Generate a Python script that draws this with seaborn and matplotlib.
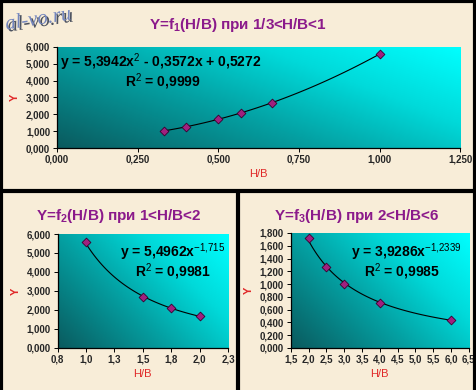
import numpy as np
import pandas as pd
import matplotlib.pyplot as plt
import matplotlib.patheffects as pe
from matplotlib.colors import LinearSegmentedColormap
from matplotlib.ticker import FuncFormatter, MultipleLocator
import seaborn as sns

sns.set_theme(style="white")
plt.rcParams["font.family"] = ["Liberation Sans", "DejaVu Sans"]
plt.rcParams["mathtext.fontset"] = "custom"
plt.rcParams["mathtext.rm"] = "Liberation Sans"
plt.rcParams["mathtext.bf"] = "Liberation Sans:bold"

# ── данные ─────────────────────────────────────────────────────────────────
x1 = [0.333, 0.400, 0.500, 0.571, 0.667, 1.000]
y1 = [1.01, 1.27, 1.72, 2.09, 2.68, 5.58]

x2 = [1.00, 1.50, 1.75, 2.00]
y2 = [5.56, 2.65, 2.07, 1.69]

x3 = [2.0, 2.5, 3.0, 4.0, 6.0]
y3 = [1.72, 1.26, 1.00, 0.71, 0.44]

BG = "#F8EDD8"
PURPLE = "#8B1A8B"
RED = "#E02828"
grad = LinearSegmentedColormap.from_list(
    "excel", [(0, "#0A5A5E"), (0.4, "#04A0A2"), (0.7, "#00DADA"), (1, "#00FFFF")])

fig = plt.figure(figsize=(4.76, 3.90), dpi=100, facecolor=BG)


def fmt(decimals):
    # округление "половина вверх", как в Excel
    def f(v, p):
        s = f"{v + 1e-9:.{decimals}f}"
        return s.replace(".", ",")
    return FuncFormatter(f)


def panel(rect, xs, ys, fit_x, fit_y, xlim, xstep, xdec, ylim, ystep, ydec):
    ax = fig.add_axes(rect)
    ax.set_facecolor(BG)
    gx, gy = np.meshgrid(np.linspace(0, 1, 200), np.linspace(0, 1, 100))
    ax.imshow(0.6 * gx + 0.4 * gy, cmap=grad, origin="lower", aspect="auto",
              extent=[0, 1, 0, 1], transform=ax.transAxes, zorder=0)
    ax.plot(fit_x, fit_y, color="black", lw=0.8, zorder=2)
    sns.scatterplot(x=xs, y=ys, marker="D", s=20, color="#A0207E",
                    edgecolor="#3A0030", linewidth=0.6, ax=ax, zorder=3)
    ax.set_xlim(*xlim)
    ax.set_ylim(*ylim)
    ax.xaxis.set_major_locator(MultipleLocator(xstep))
    ax.yaxis.set_major_locator(MultipleLocator(ystep))
    ax.xaxis.set_major_formatter(fmt(xdec))
    ax.yaxis.set_major_formatter(fmt(ydec))
    for s in ["top", "right"]:
        ax.spines[s].set_visible(False)
    for s in ["left", "bottom"]:
        ax.spines[s].set_color("black")
        ax.spines[s].set_linewidth(0.9)
    ax.tick_params(axis="both", which="major", length=3, width=0.7, color="black",
                   labelsize=7, pad=2, direction="out", bottom=True, left=True)
    for lab in ax.get_xticklabels() + ax.get_yticklabels():
        lab.set_fontweight("bold")
    ax.set_xlabel("H/B", color=RED, fontsize=8, labelpad=3)
    ax.set_ylabel("Y", color=RED, fontsize=8, labelpad=4, fontweight="bold")
    return ax


# ── верхний график: полином 2-й степени ────────────────────────────────────
c1 = np.polyfit(x1, y1, 2)
fx1 = np.linspace(min(x1), max(x1), 100)
ax1 = panel([0.1197, 0.6205, 0.847, 0.259], x1, y1, fx1, np.polyval(c1, fx1),
            (0, 1.25), 0.25, 3, (0, 6), 1, 3)

# ── нижние графики: степенная аппроксимация ────────────────────────────────
b2, a2 = np.polyfit(np.log(x2), np.log(y2), 1)
fx2 = np.linspace(min(x2), max(x2), 100)
ax2 = panel([0.121, 0.1085, 0.358, 0.2915], x2, y2, fx2, np.exp(a2) * fx2 ** b2,
            (0.75, 2.25), 0.25, 1, (0, 6), 1, 3)

b3, a3 = np.polyfit(np.log(x3), np.log(y3), 1)
fx3 = np.linspace(min(x3), max(x3), 100)
ax3 = panel([0.611, 0.1077, 0.374, 0.295], x3, y3, fx3, np.exp(a3) * fx3 ** b3,
            (1.5, 6.5), 0.5, 1, (0, 1.8), 0.2, 3)

# ── заголовки ──────────────────────────────────────────────────────────────
tkw = dict(color=PURPLE, fontsize=11, fontweight="bold", ha="center", va="center")
fig.text(238 / 476, 1 - 25 / 390, r"Y=f$_\mathbf{1}$(H/B) при 1/3<H/B<1", **tkw)
fig.text(119 / 476, 1 - 216 / 390, r"Y=f$_\mathbf{2}$(H/B) при 1<H/B<2", **tkw)
fig.text(357 / 476, 1 - 216 / 390, r"Y=f$_\mathbf{3}$(H/B) при 2<H/B<6", **tkw)

# ── уравнения трендов ──────────────────────────────────────────────────────
ekw = dict(color="black", fontsize=10, fontweight="bold", va="center")
fig.text(60 / 476, 1 - 62 / 390, r"y = 5,3942x$^\mathrm{2}$ - 0,3572x + 0,5272", **ekw)
fig.text(125 / 476, 1 - 82 / 390, r"R$^\mathrm{2}$ = 0,9999", **ekw)
fig.text(120 / 476, 1 - 252 / 390, r"y = 5,4962x$^{\mathrm{-1{,}715}}$", **ekw)
fig.text(135 / 476, 1 - 272 / 390, r"R$^\mathrm{2}$ = 0,9981", **ekw)
fig.text(351 / 476, 1 - 252 / 390, r"y = 3,9286x$^{\mathrm{-1{,}2339}}$", **ekw)
fig.text(364 / 476, 1 - 272 / 390, r"R$^\mathrm{2}$ = 0,9985", **ekw)

# ── водяной знак ───────────────────────────────────────────────────────────
fig.text(4 / 476, 1 - 20 / 390, "al-vo.ru", family="Liberation Serif", style="italic",
         fontsize=15, color="#7486BE", rotation=9, va="center", ha="left",
         path_effects=[pe.withSimplePatchShadow(offset=(1.5, -1.5), shadow_rgbFace="#202a40", alpha=0.8)])

# ── рамки панелей ──────────────────────────────────────────────────────────
lkw = dict(color="black", transform=fig.transFigure, lw=3, solid_capstyle="butt")
fig.add_artist(plt.Line2D([0, 1], [1 - 191 / 390] * 2, **lkw))
fig.add_artist(plt.Line2D([238 / 476] * 2, [0, 1 - 191 / 390], **lkw))
fig.add_artist(plt.Line2D([0, 1], [0.998, 0.998], **lkw))
fig.add_artist(plt.Line2D([0.003, 0.003], [0, 1], **lkw))
fig.add_artist(plt.Line2D([0.997, 0.997], [0, 1], **lkw))

fig.savefig("out.png", dpi=100, facecolor=BG)
